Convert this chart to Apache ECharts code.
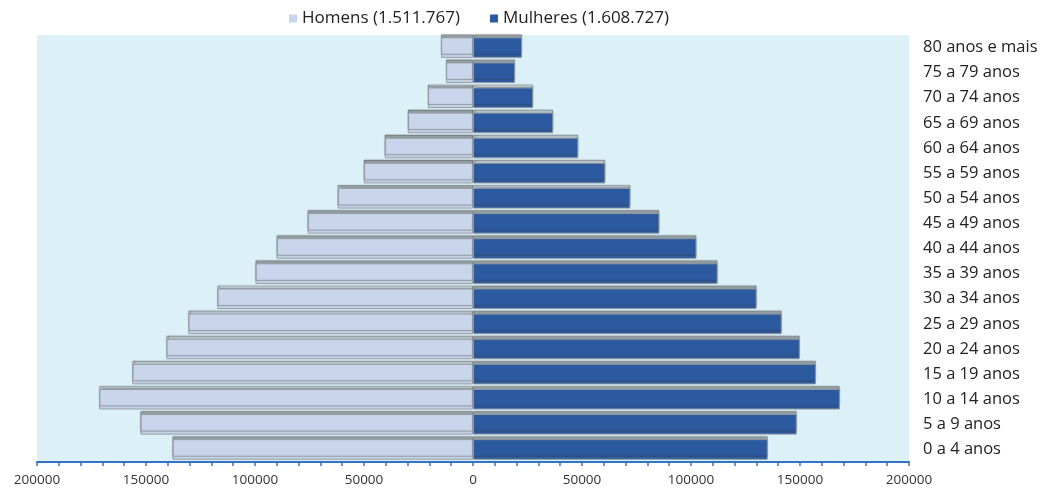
<!DOCTYPE html>
<html><head><meta charset="utf-8">
<script src="https://cdn.jsdelivr.net/npm/echarts@6/dist/echarts.min.js"></script>
<style>html,body{margin:0;padding:0;background:#fff}#c{width:1051px;height:493px}</style>
</head><body><div id="c"></div>
<script>
const categories = ["0 a 4 anos","5 a 9 anos","10 a 14 anos","15 a 19 anos","20 a 24 anos","25 a 29 anos","30 a 34 anos","35 a 39 anos","40 a 44 anos","45 a 49 anos","50 a 54 anos","55 a 59 anos","60 a 64 anos","65 a 69 anos","70 a 74 anos","75 a 79 anos","80 anos e mais"];
const homens = [137900,152600,171500,156300,140700,130600,117300,99800,90100,75900,62100,50100,40500,29900,20700,12400,14700];
const mulheres = [135200,148500,168300,157300,149900,141600,130100,112200,102500,85500,72200,60700,48300,36800,27600,19300,22500];
const legendNames = ["Homens (1.511.767)","Mulheres (1.608.727)"];
const xTicks = [-200000,-150000,-100000,-50000,0,50000,100000,150000,200000];

const chart = echarts.init(document.getElementById('c'));
const font = '"Open Sans", "Noto Sans", sans-serif';
chart.setOption({
  animation:false,
  textStyle:{fontFamily:font},
  legend:{
    top:5, left:284, itemWidth:8, itemHeight:8, itemGap:30,
    icon:'rect',
    itemStyle:{borderWidth:0, shadowBlur:0, shadowOffsetY:0},
    textStyle:{fontSize:17, color:'#222', fontFamily:font},
    data:legendNames
  },
  grid:{left:37, right:142, top:35, bottom:31, show:true, backgroundColor:'#dcf0f8', borderWidth:0},
  xAxis:{
    type:'value', min:xTicks[0], max:xTicks[xTicks.length-1], interval:50000,
    axisLine:{show:true, lineStyle:{color:'#2f74c6', width:2}},
    axisTick:{show:true, length:4, lineStyle:{color:'#2f74c6', width:1.5}},
    minorTick:{show:true, splitNumber:5, length:4, lineStyle:{color:'#2f74c6', width:1.5}},
    splitLine:{show:false},
    axisLabel:{fontSize:13.5, color:'#333', margin:11, formatter:v=>String(Math.abs(v))}
  },
  yAxis:{
    type:'category', data:categories, position:'right',
    axisLine:{show:false}, axisTick:{show:false},
    axisLabel:{fontSize:16.5, color:'#222', margin:14, align:'left'}
  },
  series:[
    {name:legendNames[0], type:'bar', stack:'t', barWidth:'82%',
     data:homens.map(v=>-v),
     itemStyle:{color:'#c8d5ea', borderColor:'#969ca3', borderWidth:1, shadowColor:'rgba(60,60,60,0.45)', shadowOffsetY:-3, shadowBlur:1}},
    {name:legendNames[1], type:'bar', stack:'t', barWidth:'82%',
     data:mulheres,
     itemStyle:{color:'#2c5aa0', borderColor:'#8e969e', borderWidth:1, shadowColor:'rgba(60,60,60,0.45)', shadowOffsetY:-3, shadowBlur:1}}
  ]
});
</script></body></html>
